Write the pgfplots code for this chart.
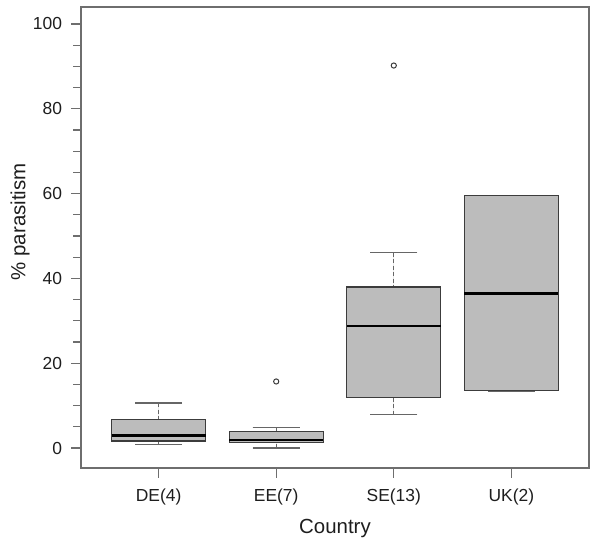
\documentclass[border=0pt]{standalone}
\usepackage{pgfplots}
\pgfplotsset{compat=1.18}
\usepgfplotslibrary{statistics}
\usepackage{fontspec}
\setmainfont{Liberation Sans}
\definecolor{boxgray}{HTML}{BCBCBC}
\definecolor{axgray}{HTML}{6E6E6E}
\definecolor{edgegray}{HTML}{3C3C3C}
\definecolor{whiskgray}{HTML}{666666}
\definecolor{txt}{HTML}{1E1E1E}
\begin{document}
\begin{tikzpicture}
\useasboundingbox (0,0) rectangle (591bp,540bp);
\begin{axis}[
  at={(81bp,72bp)}, anchor=south west,
  scale only axis, width=508bp, height=461bp,
  xmin=0.34, xmax=4.66, ymin=-4.7, ymax=104,
  xtick={1,2,3,4}, xticklabels={DE(4),EE(7),SE(13),UK(2)},
  ytick={0,20,...,100}, minor ytick={5,10,...,95},
  xtick pos=bottom, ytick pos=left,
  tick align=outside,
  major tick length=9.5bp, minor tick length=7.5bp,
  every tick/.style={axgray, line width=1.2pt},
  axis line style={axgray, line width=1.2pt},
  /pgf/number format/assume math mode=true,
  ticklabel style={font=\fontsize{17.5}{20}\selectfont, text=txt},
  xticklabel style={anchor=center, yshift=-19.5bp},
  yticklabel style={anchor=east, xshift=-6bp},
  xlabel={Country},
  ylabel={\% parasitism},
  every axis x label/.style={at={(axis description cs:0.5,0)}, yshift=-60bp, anchor=center, font=\fontsize{20.5}{24}\selectfont, text=txt},
  every axis y label/.style={at={(axis description cs:0,0.534)}, xshift=-61bp, rotate=90, anchor=center, font=\fontsize{20.5}{24}\selectfont, text=txt},
  boxplot/draw direction=y,
  boxplot/box extend=0.8,
  boxplot/whisker extend=0.4,
  boxplot/draw/lower whisker/.code={%
    \draw[whiskgray, line width=1.4pt, dash pattern=on 4bp off 2.5bp] (boxplot cs:\pgfplotsboxplotvalue{lower whisker}) -- (boxplot cs:\pgfplotsboxplotvalue{lower quartile});
    \draw[whiskgray, line width=1.4pt] (boxplot whisker cs:\pgfplotsboxplotvalue{lower whisker},0) -- (boxplot whisker cs:\pgfplotsboxplotvalue{lower whisker},1);
  },
  boxplot/draw/upper whisker/.code={%
    \draw[whiskgray, line width=1.4pt, dash pattern=on 4bp off 2.5bp] (boxplot cs:\pgfplotsboxplotvalue{upper whisker}) -- (boxplot cs:\pgfplotsboxplotvalue{upper quartile});
    \draw[whiskgray, line width=1.4pt] (boxplot whisker cs:\pgfplotsboxplotvalue{upper whisker},0) -- (boxplot whisker cs:\pgfplotsboxplotvalue{upper whisker},1);
  },
  boxplot/every median/.style={draw=black, line width=2.8pt},
  boxstyle/.style={draw=edgegray, fill=boxgray, line width=1.3pt, mark=o, mark size=2.6bp, mark options={draw=edgegray, line width=1pt}},
]
\addplot[boxstyle, boxplot prepared={draw position=1, lower whisker=0.9, lower quartile=1.7, median=2.9, upper quartile=6.8, upper whisker=10.6}] coordinates {};
\addplot[boxstyle, boxplot prepared={draw position=2, lower whisker=0.0, lower quartile=1.3, median=1.9, upper quartile=3.9, upper whisker=4.9}] table[row sep=\\, y index=0] {15.7\\};
\addplot[boxstyle, boxplot prepared={draw position=3, lower whisker=7.9, lower quartile=12.0, median=28.8, upper quartile=38.0, upper whisker=46.1}] table[row sep=\\, y index=0] {90.2\\};
\addplot[boxstyle, boxplot prepared={draw position=4, lower whisker=13.5, lower quartile=13.5, median=36.5, upper quartile=59.5, upper whisker=59.5}] coordinates {};
\end{axis}
\end{tikzpicture}
\end{document}
